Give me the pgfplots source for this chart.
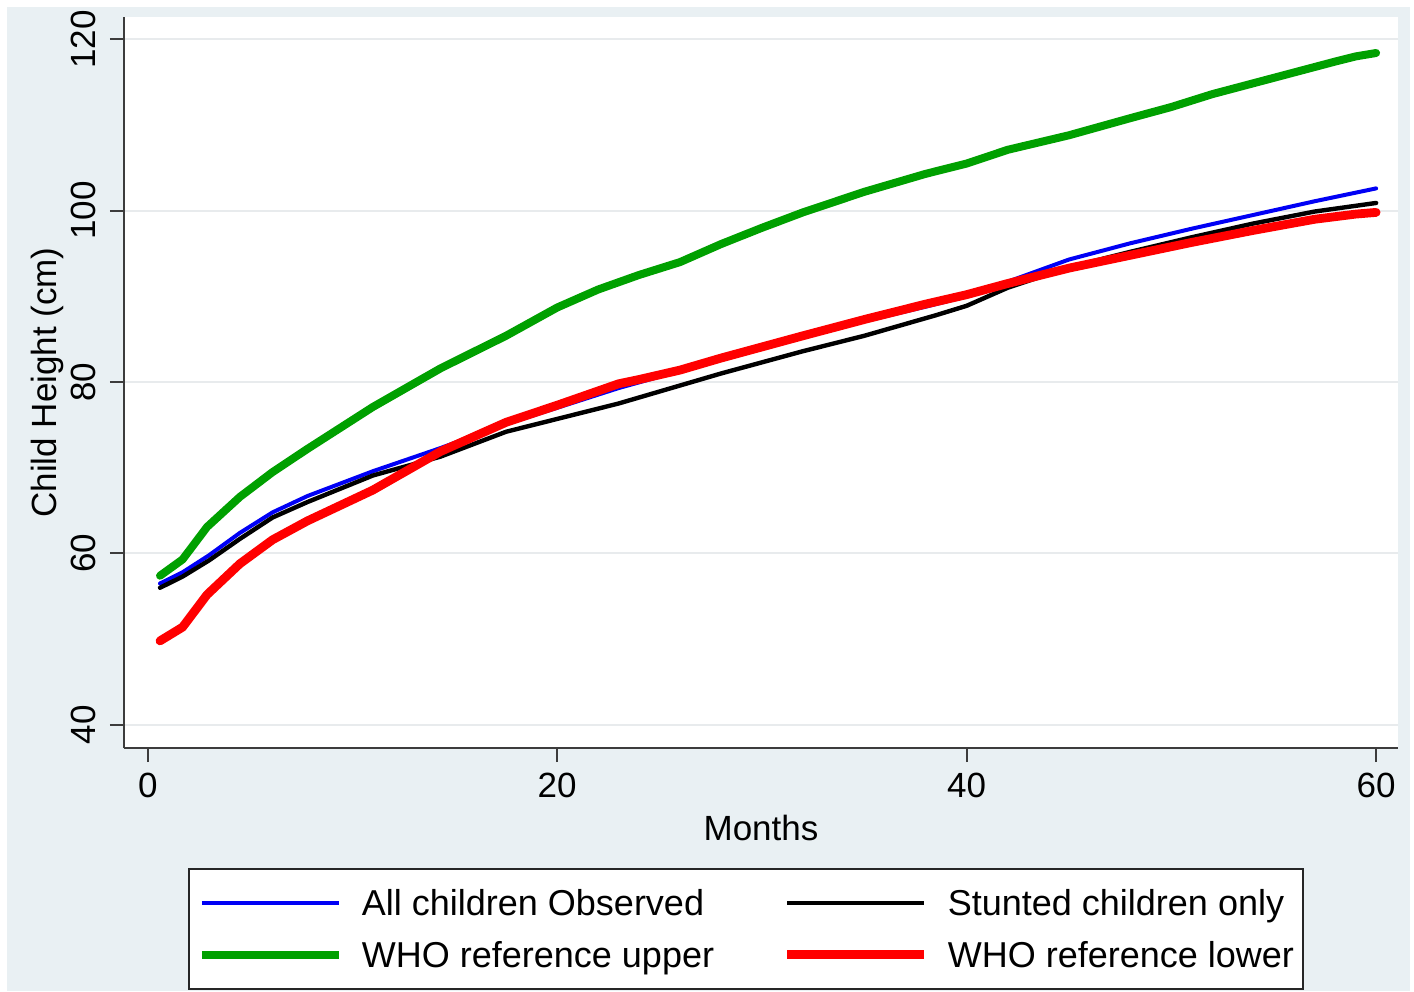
\documentclass[border=0pt]{standalone}
\usepackage{fontspec}
\setmainfont{Liberation Sans}
\usepackage{pgfplots}
\pgfplotsset{compat=1.18}
\definecolor{bgblue}{RGB}{233,240,243}
\definecolor{gridgray}{RGB}{232,235,237}
\definecolor{axgray}{RGB}{60,60,60}
\definecolor{sblue}{RGB}{0,0,245}
\definecolor{sgreen}{RGB}{0,160,0}
\definecolor{sred}{RGB}{255,0,0}
\newcommand{\fs}{\fontsize{17.5pt}{21pt}\selectfont}
\newcommand{\fl}{\fontsize{18pt}{21.6pt}\selectfont}
\begin{document}
\begin{tikzpicture}
\path[use as bounding box] (-62pt,-121.5pt) rectangle (645pt,374pt);
\fill[bgblue] (-58.5pt,-121.5pt) rectangle (643pt,370.5pt);
\begin{axis}[
  at={(0,0)}, anchor=south west,
  scale only axis, width=637pt, height=365.5pt,
  xmin=-1.16, xmax=61.07, ymin=37.3, ymax=122.6,
  axis background/.style={fill=white},
  axis x line=bottom, axis y line=left,
  axis line style={-, line width=1pt, draw=axgray},
  xtick={0,20,40,60}, ytick={40,60,80,100,120},
  tick align=outside, major tick length=7pt,
  tick style={line width=1pt, draw=axgray},
  ymajorgrids, grid style={line width=1pt, draw=gridgray},
  /pgf/number format/assume math mode=true,
  tick label style={font=\fs},
  yticklabel style={rotate=90, anchor=base},
  yticklabel shift=7pt,
  xticklabel shift=2pt,
  xlabel={Months}, ylabel={Child Height (cm)},
  every axis x label/.style={at={(axis description cs:0.5,-0.1272)}, anchor=base, font=\fs},
  every axis y label/.style={at={(axis description cs:-0.0526,0.5)}, rotate=90, anchor=base, font=\fs},
  legend columns=2,
  legend image code/.code={\draw[#1, line cap=butt] (0pt,0pt) -- (68.5pt,0pt);},
  legend cell align=left,
  legend style={at={(axis description cs:0.0502,-0.1642)}, anchor=north west,
    draw=black!85, line width=1pt, fill=white, font=\fl,
    inner xsep=4.5pt, inner ysep=10.5pt,
    nodes={inner sep=0pt, text height=12.8pt, text depth=0pt},
    row sep=13.2pt, column sep=9.5pt,
    /tikz/every even column/.append style={column sep=34.5pt}},
]
\addplot[sblue, line width=2pt, line join=round, line cap=round] coordinates {
(0.6,56.5) (1.7,57.8) (3,59.8) (4.5,62.4) (6.1,64.8) (7.8,66.7) (11,69.6)
(14.3,72.3) (17.5,75.1) (20,77.0) (23,79.3) (26,81.3) (28,82.6) (30,83.9)
(32,85.2) (35,87.1) (38,88.8) (40,90.0) (42,91.7) (45,94.3) (48,96.2)
(51,97.9) (54,99.5) (57,101.1) (60,102.6)};
\addlegendentry{All children Observed}
\addplot[black, line width=2.2pt, line join=round, line cap=round] coordinates {
(0.6,56.0) (1.7,57.3) (3,59.2) (4.5,61.7) (6.1,64.2) (7.8,66.0) (11,69.1)
(14.3,71.3) (17.5,74.2) (20,75.7) (23,77.5) (26,79.6) (28,81.0) (30,82.3)
(32,83.6) (35,85.4) (38.5,87.8) (40,88.9) (42,91.0) (45,93.4) (48,95.2)
(51,96.9) (54,98.5) (57,99.9) (60,100.9)};
\addlegendentry{Stunted children only}
\addplot[sgreen, line width=4pt, line join=round, line cap=round] coordinates {
(0.6,57.4) (1.7,59.3) (2.9,63.1) (4.5,66.6) (6.1,69.5) (7.8,72.2) (11,77.1)
(14.3,81.6) (17.5,85.4) (20,88.7) (22,90.8) (24,92.5) (26,94.0) (28,96.1)
(30,98.0) (32,99.8) (35,102.2) (38,104.3) (40,105.5) (42,107.1) (45,108.8)
(48,110.8) (50,112.1) (52,113.6) (55,115.5) (58,117.4) (59,118.0) (60,118.4)};
\addlegendentry{WHO reference upper}
\addplot[sred, line width=4.4pt, line join=round, line cap=round] coordinates {
(0.6,49.8) (1.7,51.4) (2.9,55.2) (4.5,58.8) (6.1,61.6) (7.8,63.8) (11,67.4)
(14.3,71.9) (17.5,75.3) (20,77.3) (23,79.8) (24,80.3) (26,81.4) (28,82.8)
(30,84.1) (32,85.4) (35,87.3) (38,89.1) (40,90.2) (42,91.5) (45,93.3)
(48,94.8) (51,96.3) (54,97.7) (57,99.0) (59,99.6) (60,99.8)};
\addlegendentry{WHO reference lower}
\end{axis}
\end{tikzpicture}
\end{document}
